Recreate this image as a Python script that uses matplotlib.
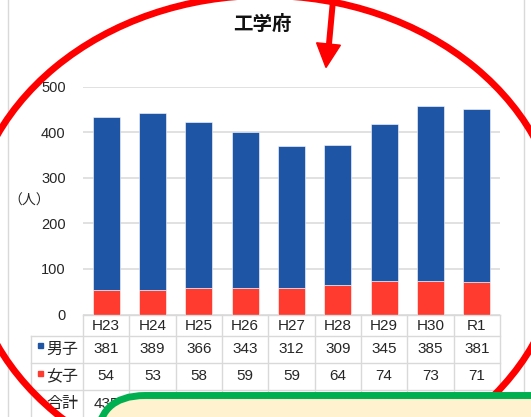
import matplotlib
matplotlib.use("Agg")
import matplotlib.pyplot as plt
from matplotlib.patches import Ellipse, FancyBboxPatch, Rectangle, Polygon
from matplotlib.transforms import blended_transform_factory
import numpy as np

plt.rcParams['font.family'] = ['Liberation Sans', 'Noto Sans CJK JP', 'DejaVu Sans']

# ---- data ----
categories = ["H23", "H24", "H25", "H26", "H27", "H28", "H29", "H30", "R1"]
male = [381, 389, 366, 343, 312, 309, 345, 385, 381]
female = [54, 53, 58, 59, 59, 64, 74, 73, 71]
total = [m + f for m, f in zip(male, female)]
row_labels = ["男子", "女子", "合計"]
yticks = [0, 100, 200, 300, 400, 500]
title = "工学府"
unit = "（人）"

BLUE = "#1F55A5"
RED = "#FF3B2F"
GRID = "#D9D9D9"
TXT = "#262626"
NUMFONT = ['Liberation Sans Narrow', 'Liberation Sans', 'DejaVu Sans']
CJK = ['Noto Sans CJK JP', 'DejaVu Sans']

W, H = 531, 417
fig = plt.figure(figsize=(W / 100, H / 100), dpi=100)
fig.patch.set_facecolor("white")

# main plot area (pixel layout)
pl, pr, pt, pb = 83, 500, 87, 314.5
ax = fig.add_axes([pl / W, (H - pb) / H, (pr - pl) / W, (pb - pt) / H])
x = np.arange(len(categories))
ax.bar(x, female, width=0.58, color=RED, edgecolor="white", linewidth=0.4, zorder=3)
ax.bar(x, male, width=0.58, bottom=female, color=BLUE, edgecolor="white", linewidth=0.4, zorder=3)
ax.set_xlim(-0.5, len(categories) - 0.5)
ax.set_ylim(0, 500)
ax.set_yticks(yticks)
ax.set_yticklabels([str(v) for v in yticks], family=NUMFONT, fontsize=10.5, color=TXT)
ax.tick_params(axis="y", length=0, pad=12.5)
ax.set_xticks([])
ax.grid(axis="y", color=GRID, linewidth=1.1, zorder=0)
for s in ax.spines.values():
    s.set_visible(False)

# overlay in pixel coordinates
ov = fig.add_axes([0, 0, 1, 1], zorder=10)
ov.set_xlim(0, W)
ov.set_ylim(H, 0)
ov.axis("off")
ov.patch.set_alpha(0)

# chart frame borders
ov.plot([7.5, 7.5], [0, H], color=GRID, lw=1.0, zorder=1)
ov.plot([524, 524], [0, H], color=GRID, lw=1.0, zorder=1)

ov.text(262, 24, title, family=CJK, fontsize=14, fontweight="bold",
        ha="center", va="center", color="#111111", zorder=2)
ov.text(29, 201, unit, family=CJK, fontsize=10, ha="center", va="center",
        color=TXT, zorder=2)

# data table
bt = blended_transform_factory(ax.transData, ov.transData)
row_y = [314.5, 335.5, 363, 390, 417]
lc = 31
for i, yy in enumerate(row_y[:-1]):
    xs = lc if i > 0 else pl
    ov.plot([xs, pr], [yy, yy], color=GRID, lw=1.0, zorder=2)
for b in np.arange(-0.5, len(categories), 1.0):
    ov.plot([b, b], [row_y[0], H], color=GRID, lw=1.0, transform=bt, zorder=2)
ov.plot([lc, lc], [row_y[1], H], color=GRID, lw=1.0, zorder=2)

cy0 = (row_y[0] + row_y[1]) / 2
for i, c in enumerate(categories):
    ov.text(i, cy0 + 0.5, c, transform=bt, ha="center", va="center",
            family=NUMFONT, fontsize=11, color=TXT, zorder=3)
for r, vals in enumerate([male, female, total]):
    cy = (row_y[r + 1] + row_y[r + 2]) / 2
    for i, v in enumerate(vals):
        ov.text(i, cy, str(v), transform=bt, ha="center", va="center",
                family=NUMFONT, fontsize=11, color=TXT, zorder=3)
    ov.text(46, cy, row_labels[r], ha="left", va="center", family=CJK,
            fontsize=11.5, color=TXT, zorder=3)
    if r < 2:
        ov.add_patch(Rectangle((37.5, cy - 6), 5, 5, color=[BLUE, RED][r], zorder=3))

# red ellipse annotation
ov.add_patch(Ellipse((265, 240), 593, 489, fill=False, edgecolor="#FF0000",
                     lw=4.9, zorder=5))

# green callout box
ov.add_patch(FancyBboxPatch((97, 395.5), 520, 120,
                            boxstyle="round,pad=0,rounding_size=48",
                            facecolor="#FEF2CF", edgecolor="#00B050", lw=5,
                            zorder=6))

# red arrow
ov.plot([333.5, 328.8], [-5, 46], color="#FF0000", lw=4.3,
        solid_capstyle="butt", zorder=7)
ov.add_patch(Polygon([(316.6, 42.8), (340.4, 45.2), (326, 67.5)], closed=True,
                     color="#FF0000", zorder=7))

fig.savefig("out.png", dpi=100)
